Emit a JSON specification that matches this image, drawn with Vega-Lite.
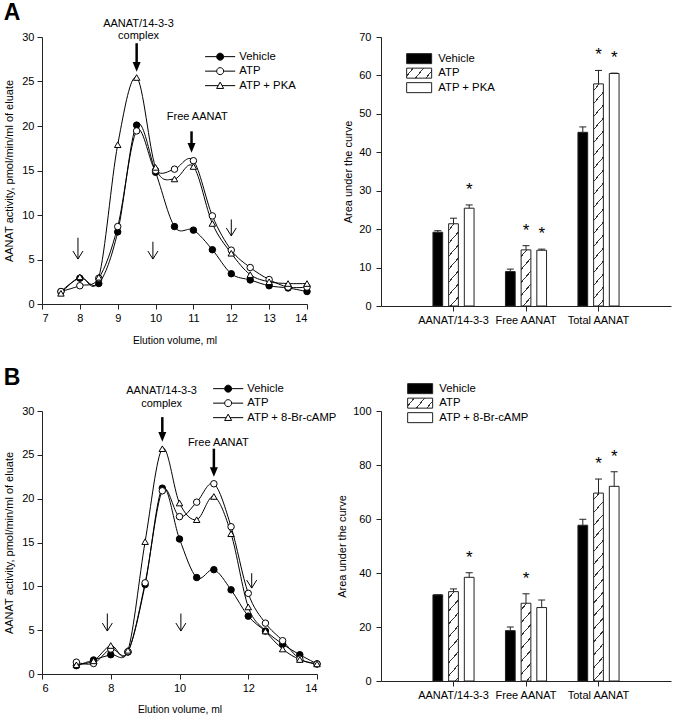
{
"$schema": "https://vega.github.io/schema/vega-lite/v6.json",
"padding": {"left": 3, "top": 1, "right": 1, "bottom": 0},
"config": {
 "font": "Liberation Sans",
 "view": {"stroke": null},
 "axis": {"grid": false, "domainColor": "#222", "tickColor": "#222", "labelColor": "black", "titleColor": "black", "labelFontSize": 11, "titleFontSize": 11, "titleFontWeight": "normal", "tickSize": 5, "labelPadding": 3, "labelFont": "Liberation Sans", "titleFont": "Liberation Sans", "labelOverlap": false},
 "legend": {"labelFont": "Liberation Sans", "labelColor": "black"},
 "text": {"font": "Liberation Sans"},
 "title": {"font": "Liberation Sans", "color": "black"}
},
"datasets": {
 "lineA": [
  {"vol":7.5,"act":1.4,"series":"Vehicle"},{"vol":8,"act":2.9,"series":"Vehicle"},{"vol":8.5,"act":2.3,"series":"Vehicle"},{"vol":9,"act":8.1,"series":"Vehicle"},{"vol":9.5,"act":20.1,"series":"Vehicle"},{"vol":10,"act":14.8,"series":"Vehicle"},{"vol":10.5,"act":8.7,"series":"Vehicle"},{"vol":11,"act":8.3,"series":"Vehicle"},{"vol":11.5,"act":6.1,"series":"Vehicle"},{"vol":12,"act":3.4,"series":"Vehicle"},{"vol":12.5,"act":2.7,"series":"Vehicle"},{"vol":13,"act":2.05,"series":"Vehicle"},{"vol":13.5,"act":1.8,"series":"Vehicle"},{"vol":14,"act":1.4,"series":"Vehicle"},
  {"vol":7.5,"act":1.4,"series":"ATP"},{"vol":8,"act":2.05,"series":"ATP"},{"vol":8.5,"act":2.9,"series":"ATP"},{"vol":9,"act":8.7,"series":"ATP"},{"vol":9.5,"act":19.45,"series":"ATP"},{"vol":10,"act":15.0,"series":"ATP"},{"vol":10.5,"act":15.15,"series":"ATP"},{"vol":11,"act":16.1,"series":"ATP"},{"vol":11.5,"act":9.9,"series":"ATP"},{"vol":12,"act":6.05,"series":"ATP"},{"vol":12.5,"act":4.1,"series":"ATP"},{"vol":13,"act":2.75,"series":"ATP"},{"vol":13.5,"act":1.9,"series":"ATP"},{"vol":14,"act":1.9,"series":"ATP"},
  {"vol":7.5,"act":1.2,"series":"ATP + PKA"},{"vol":8,"act":3.05,"series":"ATP + PKA"},{"vol":8.5,"act":3.0,"series":"ATP + PKA"},{"vol":9,"act":17.9,"series":"ATP + PKA"},{"vol":9.5,"act":25.45,"series":"ATP + PKA"},{"vol":10,"act":15.35,"series":"ATP + PKA"},{"vol":10.5,"act":14.05,"series":"ATP + PKA"},{"vol":11,"act":15.45,"series":"ATP + PKA"},{"vol":11.5,"act":9.05,"series":"ATP + PKA"},{"vol":12,"act":5.7,"series":"ATP + PKA"},{"vol":12.5,"act":3.3,"series":"ATP + PKA"},{"vol":13,"act":2.5,"series":"ATP + PKA"},{"vol":13.5,"act":2.3,"series":"ATP + PKA"},{"vol":14,"act":2.3,"series":"ATP + PKA"}
 ],
 "lineB": [
  {"vol":7,"act":0.95,"series":"Vehicle"},{"vol":7.5,"act":1.6,"series":"Vehicle"},{"vol":8,"act":2.2,"series":"Vehicle"},{"vol":8.5,"act":2.5,"series":"Vehicle"},{"vol":9,"act":10.2,"series":"Vehicle"},{"vol":9.5,"act":21.2,"series":"Vehicle"},{"vol":10,"act":15.4,"series":"Vehicle"},{"vol":10.5,"act":11.0,"series":"Vehicle"},{"vol":11,"act":11.9,"series":"Vehicle"},{"vol":11.5,"act":9.6,"series":"Vehicle"},{"vol":12,"act":6.6,"series":"Vehicle"},{"vol":12.5,"act":4.9,"series":"Vehicle"},{"vol":13,"act":3.4,"series":"Vehicle"},{"vol":13.5,"act":2.2,"series":"Vehicle"},{"vol":14,"act":1.15,"series":"Vehicle"},
  {"vol":7,"act":1.35,"series":"ATP"},{"vol":7.5,"act":1.2,"series":"ATP"},{"vol":8,"act":2.85,"series":"ATP"},{"vol":8.5,"act":2.55,"series":"ATP"},{"vol":9,"act":10.4,"series":"ATP"},{"vol":9.5,"act":20.9,"series":"ATP"},{"vol":10,"act":17.95,"series":"ATP"},{"vol":10.5,"act":19.6,"series":"ATP"},{"vol":11,"act":21.7,"series":"ATP"},{"vol":11.5,"act":16.8,"series":"ATP"},{"vol":12,"act":9.2,"series":"ATP"},{"vol":12.5,"act":5.8,"series":"ATP"},{"vol":13,"act":3.8,"series":"ATP"},{"vol":13.5,"act":1.7,"series":"ATP"},{"vol":14,"act":1.15,"series":"ATP"},
  {"vol":7,"act":1.05,"series":"ATP + 8-Br-cAMP"},{"vol":7.5,"act":1.5,"series":"ATP + 8-Br-cAMP"},{"vol":8,"act":3.25,"series":"ATP + 8-Br-cAMP"},{"vol":8.5,"act":2.7,"series":"ATP + 8-Br-cAMP"},{"vol":9,"act":15.1,"series":"ATP + 8-Br-cAMP"},{"vol":9.5,"act":25.7,"series":"ATP + 8-Br-cAMP"},{"vol":10,"act":19.5,"series":"ATP + 8-Br-cAMP"},{"vol":10.5,"act":17.6,"series":"ATP + 8-Br-cAMP"},{"vol":11,"act":20.25,"series":"ATP + 8-Br-cAMP"},{"vol":11.5,"act":16.0,"series":"ATP + 8-Br-cAMP"},{"vol":12,"act":7.65,"series":"ATP + 8-Br-cAMP"},{"vol":12.5,"act":4.9,"series":"ATP + 8-Br-cAMP"},{"vol":13,"act":2.85,"series":"ATP + 8-Br-cAMP"},{"vol":13.5,"act":1.65,"series":"ATP + 8-Br-cAMP"},{"vol":14,"act":1.15,"series":"ATP + 8-Br-cAMP"}
 ],
 "annA": [
  {"kind":"text","vol":9.55,"act":31.5,"label":"AANAT/14-3-3"},
  {"kind":"text","vol":9.55,"act":30.1,"label":"complex"},
  {"kind":"text","vol":11.1,"act":21.0,"label":"Free AANAT"},
  {"kind":"bold","vol":9.5,"act":29.3,"act2":26.1},
  {"kind":"bold","vol":10.95,"act":19.4,"act2":17.0},
  {"kind":"thin","vol":7.95,"act":7.45,"act2":5.05},
  {"kind":"thin","vol":9.93,"act":7.0,"act2":5.05},
  {"kind":"thin","vol":12.0,"act":9.5,"act2":7.65}
 ],
 "annB": [
  {"kind":"text","vol":9.48,"act":32.3,"label":"AANAT/14-3-3"},
  {"kind":"text","vol":9.48,"act":30.8,"label":"complex"},
  {"kind":"text","vol":11.13,"act":26.4,"label":"Free AANAT"},
  {"kind":"bold","vol":9.5,"act":29.3,"act2":26.5},
  {"kind":"bold","vol":11.0,"act":25.7,"act2":22.5},
  {"kind":"thin","vol":7.9,"act":6.9,"act2":4.9},
  {"kind":"thin","vol":10.04,"act":6.9,"act2":4.9},
  {"kind":"thin","vol":12.1,"act":11.5,"act2":9.8}
 ],
 "barA": [
  {"cat":"AANAT/14-3-3","treat":"Vehicle","value":19.2,"hi":19.6,"star":false},
  {"cat":"AANAT/14-3-3","treat":"ATP","value":21.4,"hi":22.85,"star":false},
  {"cat":"AANAT/14-3-3","treat":"ATP + PKA","value":25.45,"hi":26.3,"star":true},
  {"cat":"Free AANAT","treat":"Vehicle","value":8.95,"hi":9.6,"star":false},
  {"cat":"Free AANAT","treat":"ATP","value":14.6,"hi":15.7,"star":true},
  {"cat":"Free AANAT","treat":"ATP + PKA","value":14.5,"hi":14.8,"star":true},
  {"cat":"Total AANAT","treat":"Vehicle","value":45.2,"hi":46.6,"star":false},
  {"cat":"Total AANAT","treat":"ATP","value":57.8,"hi":61.3,"star":true},
  {"cat":"Total AANAT","treat":"ATP + PKA","value":60.5,"hi":60.6,"star":true}
 ],
 "barB": [
  {"cat":"AANAT/14-3-3","treat":"Vehicle","value":31.9,"hi":31.9,"star":false},
  {"cat":"AANAT/14-3-3","treat":"ATP","value":33.1,"hi":34.1,"star":false},
  {"cat":"AANAT/14-3-3","treat":"ATP + 8-Br-cAMP","value":38.4,"hi":40.1,"star":true},
  {"cat":"Free AANAT","treat":"Vehicle","value":18.65,"hi":20.0,"star":false},
  {"cat":"Free AANAT","treat":"ATP","value":28.8,"hi":32.3,"star":true},
  {"cat":"Free AANAT","treat":"ATP + 8-Br-cAMP","value":27.2,"hi":30.0,"star":false},
  {"cat":"Total AANAT","treat":"Vehicle","value":57.7,"hi":59.9,"star":false},
  {"cat":"Total AANAT","treat":"ATP","value":69.6,"hi":74.8,"star":true},
  {"cat":"Total AANAT","treat":"ATP + 8-Br-cAMP","value":72.1,"hi":77.5,"star":true}
 ]
},
"columns": 2,
"bounds": "flush",
"spacing": {"row": 105, "column": 64},
"resolve": {"scale": {"shape": "independent", "fill": "independent", "x": "independent", "y": "independent", "xOffset": "independent"}, "legend": {"shape": "independent", "fill": "independent"}},
"concat": [
   {
    "width": 265, "height": 267,
    "title": {"text": "A", "anchor": "start", "frame": "bounds", "fontSize": 23, "fontWeight": "bold", "offset": -7},
    "resolve": {"scale": {"shape": "independent", "fill": "independent"}},
    "layer": [
     {"data": {"name": "lineA"}, "mark": {"type": "line", "interpolate": "cardinal", "stroke": "black", "strokeWidth": 1},
      "encoding": {
       "x": {"field": "vol", "type": "quantitative", "scale": {"domain": [7, 14], "nice": false, "zero": false}, "axis": {"values": [7,8,9,10,11,12,13,14], "tickCount": 8, "title": "Elution volume, ml", "titlePadding": 12, "titleFontSize": 10.3, "labelOverlap": false}},
       "y": {"field": "act", "type": "quantitative", "scale": {"domain": [0, 30], "nice": false}, "axis": {"values": [0,5,10,15,20,25,30], "tickCount": 7, "title": "AANAT activity, pmol/min/ml of eluate", "titlePadding": 7, "labelOverlap": false}},
       "detail": {"field": "series", "type": "nominal"}}},
     {"data": {"name": "lineA"}, "mark": {"type": "point", "filled": true, "stroke": "black", "strokeWidth": 1, "size": 42, "opacity": 1},
      "encoding": {
       "x": {"field": "vol", "type": "quantitative"},
       "y": {"field": "act", "type": "quantitative"},
       "fill": {"field": "series", "type": "nominal", "scale": {"domain": ["Vehicle", "ATP", "ATP + PKA"], "range": ["black", "white", "white"]}, "legend": null},
       "shape": {"field": "series", "type": "nominal", "scale": {"domain": ["Vehicle", "ATP", "ATP + PKA"], "range": ["circle", "circle", "triangle-up"]}, "legend": null}}},
     {"data": {"name": "lineA"}, "transform": [{"filter": "false"}], "mark": {"type": "point", "filled": true, "stroke": "black", "strokeWidth": 1, "opacity": 1},
      "encoding": {
       "fill": {"field": "series", "type": "nominal", "scale": {"domain": ["Vehicle", "ATP", "ATP + PKA"], "range": ["black", "white", "white"]}, "legend": null},
       "shape": {"field": "series", "type": "nominal", "scale": {"domain": ["Vehicle", "ATP", "ATP + PKA"], "range": ["M-4.3,0L-1,0M1,0L4.3,0M-1,0A1,1,0,1,1,1,0A1,1,0,1,1,-1,0Z", "M-4.3,0L-1,0M1,0L4.3,0M-1,0A1,1,0,1,1,1,0A1,1,0,1,1,-1,0Z", "M-4.3,0L-0.55,0M0.55,0L4.3,0M0,-1L1,0.8L-1,0.8Z"]},
        "legend": {"title": null, "orient": "none", "legendX": 164, "legendY": 14, "labelFontSize": 11.3, "labelOffset": 13.5, "symbolOffset": 8.5, "symbolSize": 49, "symbolStrokeWidth": 1, "rowPadding": 1.5, "padding": 0}}}},
     {"data": {"name": "annA"}, "transform": [{"filter": "datum.kind === 'text'"}], "mark": {"type": "text", "fontSize": 11, "baseline": "middle", "color": "black"},
      "encoding": {"x": {"field": "vol", "type": "quantitative"}, "y": {"field": "act", "type": "quantitative"}, "text": {"field": "label"}}},
     {"data": {"name": "annA"}, "transform": [{"filter": "datum.kind === 'bold'"}], "mark": {"type": "rule", "stroke": "black", "strokeWidth": 2.5, "y2Offset": -4},
      "encoding": {"x": {"field": "vol", "type": "quantitative"}, "y": {"field": "act", "type": "quantitative"}, "y2": {"field": "act2"}}},
     {"data": {"name": "annA"}, "transform": [{"filter": "datum.kind === 'bold'"}], "mark": {"type": "point", "shape": "M-1,-2.4L1,-2.4L0,0Z", "filled": true, "color": "black", "size": 64, "opacity": 1},
      "encoding": {"x": {"field": "vol", "type": "quantitative"}, "y": {"field": "act2", "type": "quantitative"}}},
     {"data": {"name": "annA"}, "transform": [{"filter": "datum.kind === 'thin'"}], "mark": {"type": "rule", "stroke": "black", "strokeWidth": 1},
      "encoding": {"x": {"field": "vol", "type": "quantitative"}, "y": {"field": "act", "type": "quantitative"}, "y2": {"field": "act2"}}},
     {"data": {"name": "annA"}, "transform": [{"filter": "datum.kind === 'thin'"}], "mark": {"type": "point", "shape": "M-1,-1.6L0,0L1,-1.6", "filled": false, "stroke": "black", "strokeWidth": 1, "size": 100, "opacity": 1},
      "encoding": {"x": {"field": "vol", "type": "quantitative"}, "y": {"field": "act2", "type": "quantitative"}}}
    ]
   },
   {
    "width": 290, "height": 269,
    "data": {"name": "barA"},
    "layer": [
     {"mark": {"type": "bar", "stroke": "#222", "strokeWidth": 1},
      "encoding": {
       "x": {"field": "cat", "type": "nominal", "sort": null, "scale": {"paddingInner": 0, "paddingOuter": 0.5}, "axis": {"title": null, "labelAngle": 0, "labelFontSize": 11, "bandPosition": 0.5}},
       "xOffset": {"field": "treat", "type": "nominal", "sort": null, "scale": {"domain": ["Vehicle", "ATP", "ATP + PKA"], "paddingInner": 0.38, "paddingOuter": 1.19}},
       "y": {"field": "value", "type": "quantitative", "scale": {"domain": [0, 70], "nice": false}, "axis": {"values": [0,10,20,30,40,50,60,70], "tickCount": 8, "title": "Area under the curve", "labelPadding": 5, "titlePadding": 5}},
       "fill": {"field": "treat", "type": "nominal", "scale": {"domain": ["Vehicle", "ATP", "ATP + PKA"], "range": ["black",
          {"expr": "{gradient: 'linear', x1: 0, y1: 0, x2: 1.1974, y2: 0.38317, stops: [{offset: 0.17697, color: 'white'}, {offset: 0.17697, color: '#333'}, {offset: 0.21091, color: '#333'}, {offset: 0.21091, color: 'white'}, {offset: 0.49212, color: 'white'}, {offset: 0.49212, color: '#333'}, {offset: 0.52606, color: '#333'}, {offset: 0.52606, color: 'white'}, {offset: 0.80727, color: 'white'}, {offset: 0.80727, color: '#333'}, {offset: 0.84121, color: '#333'}, {offset: 0.84121, color: 'white'}]}"},
          "white"]},
        "condition": [
         {"test": "datum.treat === 'ATP' && datum.cat === 'AANAT/14-3-3'", "value": {"gradient": "linear", "x1": 0, "y1": 0, "x2": 0.15265, "y2": 1.11592, "stops": [
          {"offset":0.06204,"color":"white"},{"offset":0.06204,"color":"#333"},{"offset":0.07701,"color":"#333"},{"offset":0.07701,"color":"white"},
          {"offset":0.20109,"color":"white"},{"offset":0.20109,"color":"#333"},{"offset":0.21606,"color":"#333"},{"offset":0.21606,"color":"white"},
          {"offset":0.34014,"color":"white"},{"offset":0.34014,"color":"#333"},{"offset":0.35511,"color":"#333"},{"offset":0.35511,"color":"white"},
          {"offset":0.47919,"color":"white"},{"offset":0.47919,"color":"#333"},{"offset":0.49416,"color":"#333"},{"offset":0.49416,"color":"white"},
          {"offset":0.61824,"color":"white"},{"offset":0.61824,"color":"#333"},{"offset":0.63321,"color":"#333"},{"offset":0.63321,"color":"white"},
          {"offset":0.75729,"color":"white"},{"offset":0.75729,"color":"#333"},{"offset":0.77226,"color":"#333"},{"offset":0.77226,"color":"white"},
          {"offset":0.89634,"color":"white"},{"offset":0.89634,"color":"#333"},{"offset":0.91131,"color":"#333"},{"offset":0.91131,"color":"white"}]}},
         {"test": "datum.treat === 'ATP' && datum.cat === 'Free AANAT'", "value": {"gradient": "linear", "x1": 0, "y1": 0, "x2": 0.23144, "y2": 1.15415, "stops": [
          {"offset":0.08612,"color":"white"},{"offset":0.08612,"color":"#333"},{"offset":0.10690,"color":"#333"},{"offset":0.10690,"color":"white"},
          {"offset":0.27914,"color":"white"},{"offset":0.27914,"color":"#333"},{"offset":0.29993,"color":"#333"},{"offset":0.29993,"color":"white"},
          {"offset":0.47216,"color":"white"},{"offset":0.47216,"color":"#333"},{"offset":0.49295,"color":"#333"},{"offset":0.49295,"color":"white"},
          {"offset":0.66518,"color":"white"},{"offset":0.66518,"color":"#333"},{"offset":0.68597,"color":"#333"},{"offset":0.68597,"color":"white"},
          {"offset":0.85820,"color":"white"},{"offset":0.85820,"color":"#333"},{"offset":0.87899,"color":"#333"},{"offset":0.87899,"color":"white"}]}},
         {"test": "datum.treat === 'ATP' && datum.cat === 'Total AANAT'", "value": {"gradient": "linear", "x1": 0, "y1": 0, "x2": 0.05308, "y2": 1.04796, "stops": [
          {"offset":0.02485,"color":"white"},{"offset":0.02485,"color":"#333"},{"offset":0.03085,"color":"#333"},{"offset":0.03085,"color":"white"},
          {"offset":0.08056,"color":"white"},{"offset":0.08056,"color":"#333"},{"offset":0.08656,"color":"#333"},{"offset":0.08656,"color":"white"},
          {"offset":0.13626,"color":"white"},{"offset":0.13626,"color":"#333"},{"offset":0.14226,"color":"#333"},{"offset":0.14226,"color":"white"},
          {"offset":0.19197,"color":"white"},{"offset":0.19197,"color":"#333"},{"offset":0.19797,"color":"#333"},{"offset":0.19797,"color":"white"},
          {"offset":0.24767,"color":"white"},{"offset":0.24767,"color":"#333"},{"offset":0.25367,"color":"#333"},{"offset":0.25367,"color":"white"},
          {"offset":0.30338,"color":"white"},{"offset":0.30338,"color":"#333"},{"offset":0.30938,"color":"#333"},{"offset":0.30938,"color":"white"},
          {"offset":0.35908,"color":"white"},{"offset":0.35908,"color":"#333"},{"offset":0.36508,"color":"#333"},{"offset":0.36508,"color":"white"},
          {"offset":0.41479,"color":"white"},{"offset":0.41479,"color":"#333"},{"offset":0.42079,"color":"#333"},{"offset":0.42079,"color":"white"},
          {"offset":0.47049,"color":"white"},{"offset":0.47049,"color":"#333"},{"offset":0.47649,"color":"#333"},{"offset":0.47649,"color":"white"},
          {"offset":0.52620,"color":"white"},{"offset":0.52620,"color":"#333"},{"offset":0.53220,"color":"#333"},{"offset":0.53220,"color":"white"},
          {"offset":0.58190,"color":"white"},{"offset":0.58190,"color":"#333"},{"offset":0.58790,"color":"#333"},{"offset":0.58790,"color":"white"},
          {"offset":0.63761,"color":"white"},{"offset":0.63761,"color":"#333"},{"offset":0.64361,"color":"#333"},{"offset":0.64361,"color":"white"},
          {"offset":0.69331,"color":"white"},{"offset":0.69331,"color":"#333"},{"offset":0.69931,"color":"#333"},{"offset":0.69931,"color":"white"},
          {"offset":0.74902,"color":"white"},{"offset":0.74902,"color":"#333"},{"offset":0.75502,"color":"#333"},{"offset":0.75502,"color":"white"},
          {"offset":0.80472,"color":"white"},{"offset":0.80472,"color":"#333"},{"offset":0.81072,"color":"#333"},{"offset":0.81072,"color":"white"},
          {"offset":0.86043,"color":"white"},{"offset":0.86043,"color":"#333"},{"offset":0.86643,"color":"#333"},{"offset":0.86643,"color":"white"},
          {"offset":0.91613,"color":"white"},{"offset":0.91613,"color":"#333"},{"offset":0.92213,"color":"#333"},{"offset":0.92213,"color":"white"},
          {"offset":0.97184,"color":"white"},{"offset":0.97184,"color":"#333"},{"offset":0.97784,"color":"#333"},{"offset":0.97784,"color":"white"}]}}
        ],
        "legend": {"title": null, "orient": "none", "legendX": 25, "legendY": 16, "labelFontSize": 11.3, "symbolType": "M-2.5,-1H2.5V1H-2.5Z", "symbolSize": 100, "symbolStrokeColor": "#222", "symbolStrokeWidth": 1, "symbolOffset": 7.5, "labelOffset": 13.5, "rowPadding": -0.5, "padding": 0}}}},
     {"mark": {"type": "rule", "stroke": "#222", "strokeWidth": 1},
      "encoding": {"x": {"field": "cat", "type": "nominal", "sort": null}, "xOffset": {"field": "treat", "type": "nominal", "sort": null}, "y": {"field": "value", "type": "quantitative"}, "y2": {"field": "hi"}}},
     {"mark": {"type": "tick", "color": "#222", "thickness": 1, "size": 7, "opacity": 1},
      "encoding": {"x": {"field": "cat", "type": "nominal", "sort": null}, "xOffset": {"field": "treat", "type": "nominal", "sort": null}, "y": {"field": "hi", "type": "quantitative"}}},
     {"transform": [{"filter": "datum.star"}], "mark": {"type": "text", "text": "*", "fontSize": 17, "baseline": "alphabetic", "dy": -10, "color": "black"},
      "encoding": {"x": {"field": "cat", "type": "nominal", "sort": null}, "xOffset": {"field": "treat", "type": "nominal", "sort": null}, "y": {"field": "hi", "type": "quantitative"}}}
    ]
   },
   {
    "width": 275, "height": 263,
    "title": {"text": "B", "anchor": "start", "frame": "bounds", "fontSize": 23, "fontWeight": "bold", "offset": -7},
    "resolve": {"scale": {"shape": "independent", "fill": "independent"}},
    "layer": [
     {"data": {"name": "lineB"}, "mark": {"type": "line", "interpolate": "cardinal", "stroke": "black", "strokeWidth": 1},
      "encoding": {
       "x": {"field": "vol", "type": "quantitative", "scale": {"domain": [6, 14], "nice": false, "zero": false}, "axis": {"values": [6,8,10,12,14], "tickCount": 5, "title": "Elution volume, ml", "titlePadding": 11, "titleFontSize": 10.3, "labelOverlap": false}},
       "y": {"field": "act", "type": "quantitative", "scale": {"domain": [0, 30], "nice": false}, "axis": {"values": [0,5,10,15,20,25,30], "tickCount": 7, "title": "AANAT activity, pmol/min/ml of eluate", "titlePadding": 7, "labelOverlap": false}},
       "detail": {"field": "series", "type": "nominal"}}},
     {"data": {"name": "lineB"}, "mark": {"type": "point", "filled": true, "stroke": "black", "strokeWidth": 1, "size": 42, "opacity": 1},
      "encoding": {
       "x": {"field": "vol", "type": "quantitative"},
       "y": {"field": "act", "type": "quantitative"},
       "fill": {"field": "series", "type": "nominal", "scale": {"domain": ["Vehicle", "ATP", "ATP + 8-Br-cAMP"], "range": ["black", "white", "white"]}, "legend": null},
       "shape": {"field": "series", "type": "nominal", "scale": {"domain": ["Vehicle", "ATP", "ATP + 8-Br-cAMP"], "range": ["circle", "circle", "triangle-up"]}, "legend": null}}},
     {"data": {"name": "lineB"}, "transform": [{"filter": "false"}], "mark": {"type": "point", "filled": true, "stroke": "black", "strokeWidth": 1, "opacity": 1},
      "encoding": {
       "fill": {"field": "series", "type": "nominal", "scale": {"domain": ["Vehicle", "ATP", "ATP + 8-Br-cAMP"], "range": ["black", "white", "white"]}, "legend": null},
       "shape": {"field": "series", "type": "nominal", "scale": {"domain": ["Vehicle", "ATP", "ATP + 8-Br-cAMP"], "range": ["M-4.3,0L-1,0M1,0L4.3,0M-1,0A1,1,0,1,1,1,0A1,1,0,1,1,-1,0Z", "M-4.3,0L-1,0M1,0L4.3,0M-1,0A1,1,0,1,1,1,0A1,1,0,1,1,-1,0Z", "M-4.3,0L-0.55,0M0.55,0L4.3,0M0,-1L1,0.8L-1,0.8Z"]},
        "legend": {"title": null, "orient": "none", "legendX": 172, "legendY": -28, "labelFontSize": 11.3, "labelOffset": 13.5, "symbolOffset": 8.5, "symbolSize": 49, "symbolStrokeWidth": 1, "rowPadding": 1.5, "padding": 0}}}},
     {"data": {"name": "annB"}, "transform": [{"filter": "datum.kind === 'text'"}], "mark": {"type": "text", "fontSize": 11, "baseline": "middle", "color": "black"},
      "encoding": {"x": {"field": "vol", "type": "quantitative"}, "y": {"field": "act", "type": "quantitative"}, "text": {"field": "label"}}},
     {"data": {"name": "annB"}, "transform": [{"filter": "datum.kind === 'bold'"}], "mark": {"type": "rule", "stroke": "black", "strokeWidth": 2.5, "y2Offset": -4},
      "encoding": {"x": {"field": "vol", "type": "quantitative"}, "y": {"field": "act", "type": "quantitative"}, "y2": {"field": "act2"}}},
     {"data": {"name": "annB"}, "transform": [{"filter": "datum.kind === 'bold'"}], "mark": {"type": "point", "shape": "M-1,-2.4L1,-2.4L0,0Z", "filled": true, "color": "black", "size": 64, "opacity": 1},
      "encoding": {"x": {"field": "vol", "type": "quantitative"}, "y": {"field": "act2", "type": "quantitative"}}},
     {"data": {"name": "annB"}, "transform": [{"filter": "datum.kind === 'thin'"}], "mark": {"type": "rule", "stroke": "black", "strokeWidth": 1},
      "encoding": {"x": {"field": "vol", "type": "quantitative"}, "y": {"field": "act", "type": "quantitative"}, "y2": {"field": "act2"}}},
     {"data": {"name": "annB"}, "transform": [{"filter": "datum.kind === 'thin'"}], "mark": {"type": "point", "shape": "M-1,-1.6L0,0L1,-1.6", "filled": false, "stroke": "black", "strokeWidth": 1, "size": 100, "opacity": 1},
      "encoding": {"x": {"field": "vol", "type": "quantitative"}, "y": {"field": "act2", "type": "quantitative"}}}
    ]
   },
   {
    "width": 290, "height": 270,
    "data": {"name": "barB"},
    "layer": [
     {"mark": {"type": "bar", "stroke": "#222", "strokeWidth": 1},
      "encoding": {
       "x": {"field": "cat", "type": "nominal", "sort": null, "scale": {"paddingInner": 0, "paddingOuter": 0.5}, "axis": {"title": null, "labelAngle": 0, "labelFontSize": 11, "bandPosition": 0.5}},
       "xOffset": {"field": "treat", "type": "nominal", "sort": null, "scale": {"domain": ["Vehicle", "ATP", "ATP + 8-Br-cAMP"], "paddingInner": 0.38, "paddingOuter": 1.19}},
       "y": {"field": "value", "type": "quantitative", "scale": {"domain": [0, 100], "nice": false}, "axis": {"values": [0,20,40,60,80,100], "tickCount": 6, "title": "Area under the curve", "labelPadding": 5, "titlePadding": 5}},
       "fill": {"field": "treat", "type": "nominal", "scale": {"domain": ["Vehicle", "ATP", "ATP + 8-Br-cAMP"], "range": ["black",
          {"expr": "{gradient: 'linear', x1: 0, y1: 0, x2: 1.1974, y2: 0.38317, stops: [{offset: 0.17697, color: 'white'}, {offset: 0.17697, color: '#333'}, {offset: 0.21091, color: '#333'}, {offset: 0.21091, color: 'white'}, {offset: 0.49212, color: 'white'}, {offset: 0.49212, color: '#333'}, {offset: 0.52606, color: '#333'}, {offset: 0.52606, color: 'white'}, {offset: 0.80727, color: 'white'}, {offset: 0.80727, color: '#333'}, {offset: 0.84121, color: '#333'}, {offset: 0.84121, color: 'white'}]}"},
          "white"]},
        "condition": [
         {"test": "datum.treat === 'ATP' && datum.cat === 'AANAT/14-3-3'", "value": {"gradient": "linear", "x1": 0, "y1": 0, "x2": 0.13896, "y2": 1.10799, "stops": [
          {"offset":0.05745,"color":"white"},{"offset":0.05745,"color":"#333"},{"offset":0.07132,"color":"#333"},{"offset":0.07132,"color":"white"},
          {"offset":0.18623,"color":"white"},{"offset":0.18623,"color":"#333"},{"offset":0.20010,"color":"#333"},{"offset":0.20010,"color":"white"},
          {"offset":0.31501,"color":"white"},{"offset":0.31501,"color":"#333"},{"offset":0.32888,"color":"#333"},{"offset":0.32888,"color":"white"},
          {"offset":0.44378,"color":"white"},{"offset":0.44378,"color":"#333"},{"offset":0.45765,"color":"#333"},{"offset":0.45765,"color":"white"},
          {"offset":0.57256,"color":"white"},{"offset":0.57256,"color":"#333"},{"offset":0.58643,"color":"#333"},{"offset":0.58643,"color":"white"},
          {"offset":0.70134,"color":"white"},{"offset":0.70134,"color":"#333"},{"offset":0.71521,"color":"#333"},{"offset":0.71521,"color":"white"},
          {"offset":0.83011,"color":"white"},{"offset":0.83011,"color":"#333"},{"offset":0.84398,"color":"#333"},{"offset":0.84398,"color":"white"},
          {"offset":0.95889,"color":"white"},{"offset":0.95889,"color":"#333"},{"offset":0.97276,"color":"#333"},{"offset":0.97276,"color":"white"}]}},
         {"test": "datum.treat === 'ATP' && datum.cat === 'Free AANAT'", "value": {"gradient": "linear", "x1": 0, "y1": 0, "x2": 0.16156, "y2": 1.12087, "stops": [
          {"offset":0.06495,"color":"white"},{"offset":0.06495,"color":"#333"},{"offset":0.08063,"color":"#333"},{"offset":0.08063,"color":"white"},
          {"offset":0.21053,"color":"white"},{"offset":0.21053,"color":"#333"},{"offset":0.22620,"color":"#333"},{"offset":0.22620,"color":"white"},
          {"offset":0.35610,"color":"white"},{"offset":0.35610,"color":"#333"},{"offset":0.37178,"color":"#333"},{"offset":0.37178,"color":"white"},
          {"offset":0.50168,"color":"white"},{"offset":0.50168,"color":"#333"},{"offset":0.51736,"color":"#333"},{"offset":0.51736,"color":"white"},
          {"offset":0.64726,"color":"white"},{"offset":0.64726,"color":"#333"},{"offset":0.66293,"color":"#333"},{"offset":0.66293,"color":"white"},
          {"offset":0.79283,"color":"white"},{"offset":0.79283,"color":"#333"},{"offset":0.80851,"color":"#333"},{"offset":0.80851,"color":"white"},
          {"offset":0.93841,"color":"white"},{"offset":0.93841,"color":"#333"},{"offset":0.95409,"color":"#333"},{"offset":0.95409,"color":"white"}]}},
         {"test": "datum.treat === 'ATP' && datum.cat === 'Total AANAT'", "value": {"gradient": "linear", "x1": 0, "y1": 0, "x2": 0.06298, "y2": 1.05588, "stops": [
          {"offset":0.02902,"color":"white"},{"offset":0.02902,"color":"#333"},{"offset":0.03602,"color":"#333"},{"offset":0.03602,"color":"white"},
          {"offset":0.09406,"color":"white"},{"offset":0.09406,"color":"#333"},{"offset":0.10107,"color":"#333"},{"offset":0.10107,"color":"white"},
          {"offset":0.15911,"color":"white"},{"offset":0.15911,"color":"#333"},{"offset":0.16611,"color":"#333"},{"offset":0.16611,"color":"white"},
          {"offset":0.22415,"color":"white"},{"offset":0.22415,"color":"#333"},{"offset":0.23115,"color":"#333"},{"offset":0.23115,"color":"white"},
          {"offset":0.28919,"color":"white"},{"offset":0.28919,"color":"#333"},{"offset":0.29620,"color":"#333"},{"offset":0.29620,"color":"white"},
          {"offset":0.35423,"color":"white"},{"offset":0.35423,"color":"#333"},{"offset":0.36124,"color":"#333"},{"offset":0.36124,"color":"white"},
          {"offset":0.41928,"color":"white"},{"offset":0.41928,"color":"#333"},{"offset":0.42628,"color":"#333"},{"offset":0.42628,"color":"white"},
          {"offset":0.48432,"color":"white"},{"offset":0.48432,"color":"#333"},{"offset":0.49132,"color":"#333"},{"offset":0.49132,"color":"white"},
          {"offset":0.54936,"color":"white"},{"offset":0.54936,"color":"#333"},{"offset":0.55637,"color":"#333"},{"offset":0.55637,"color":"white"},
          {"offset":0.61441,"color":"white"},{"offset":0.61441,"color":"#333"},{"offset":0.62141,"color":"#333"},{"offset":0.62141,"color":"white"},
          {"offset":0.67945,"color":"white"},{"offset":0.67945,"color":"#333"},{"offset":0.68645,"color":"#333"},{"offset":0.68645,"color":"white"},
          {"offset":0.74449,"color":"white"},{"offset":0.74449,"color":"#333"},{"offset":0.75150,"color":"#333"},{"offset":0.75150,"color":"white"},
          {"offset":0.80953,"color":"white"},{"offset":0.80953,"color":"#333"},{"offset":0.81654,"color":"#333"},{"offset":0.81654,"color":"white"},
          {"offset":0.87458,"color":"white"},{"offset":0.87458,"color":"#333"},{"offset":0.88158,"color":"#333"},{"offset":0.88158,"color":"white"},
          {"offset":0.93962,"color":"white"},{"offset":0.93962,"color":"#333"},{"offset":0.94662,"color":"#333"},{"offset":0.94662,"color":"white"}]}}
        ],
        "legend": {"title": null, "orient": "none", "legendX": 26, "legendY": -28, "labelFontSize": 11.3, "symbolType": "M-2.5,-1H2.5V1H-2.5Z", "symbolSize": 100, "symbolStrokeColor": "#222", "symbolStrokeWidth": 1, "symbolOffset": 7.5, "labelOffset": 13.5, "rowPadding": -0.5, "padding": 0}}}},
     {"mark": {"type": "rule", "stroke": "#222", "strokeWidth": 1},
      "encoding": {"x": {"field": "cat", "type": "nominal", "sort": null}, "xOffset": {"field": "treat", "type": "nominal", "sort": null}, "y": {"field": "value", "type": "quantitative"}, "y2": {"field": "hi"}}},
     {"mark": {"type": "tick", "color": "#222", "thickness": 1, "size": 7, "opacity": 1},
      "encoding": {"x": {"field": "cat", "type": "nominal", "sort": null}, "xOffset": {"field": "treat", "type": "nominal", "sort": null}, "y": {"field": "hi", "type": "quantitative"}}},
     {"transform": [{"filter": "datum.star"}], "mark": {"type": "text", "text": "*", "fontSize": 17, "baseline": "alphabetic", "dy": -10, "color": "black"},
      "encoding": {"x": {"field": "cat", "type": "nominal", "sort": null}, "xOffset": {"field": "treat", "type": "nominal", "sort": null}, "y": {"field": "hi", "type": "quantitative"}}}
    ]
   }
]
}
